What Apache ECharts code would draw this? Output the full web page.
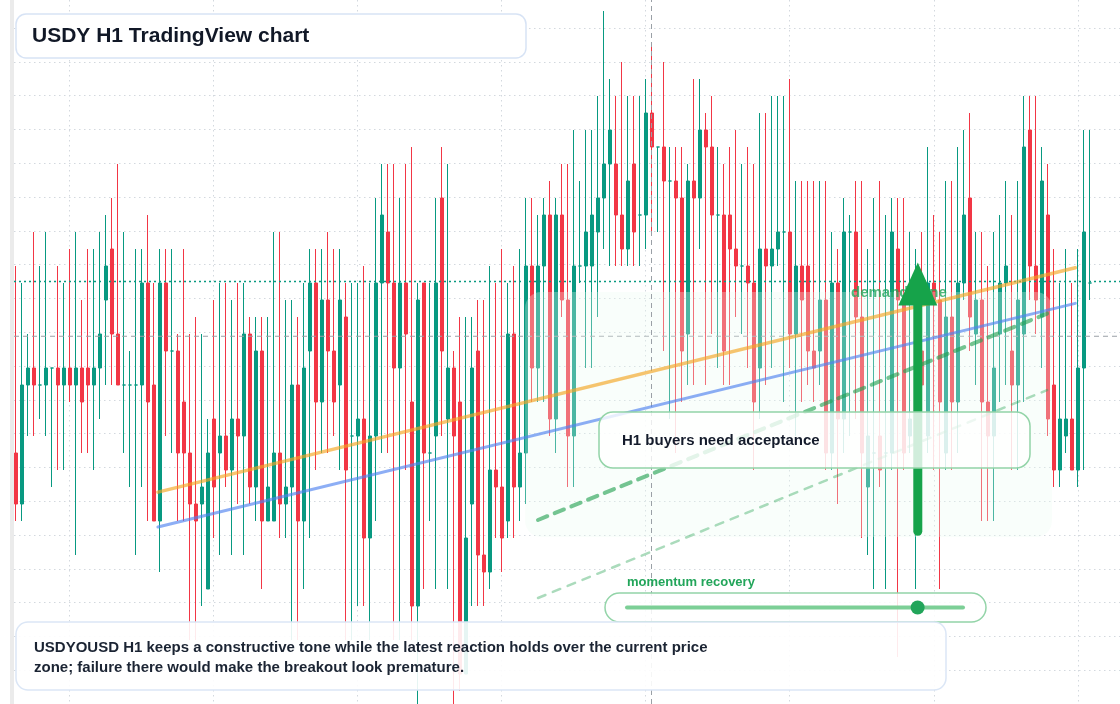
<!DOCTYPE html>
<html lang="en">
<head>
<meta charset="UTF-8">
<title>USDY H1 TradingView chart</title>
<script src="https://cdn.jsdelivr.net/npm/echarts@6/dist/echarts.min.js"></script>
<style>
    html, body { margin: 0; padding: 0; background: #fff; }
    #container { width: 1120px; height: 704px; }
</style>
</head>
<body>
<div id="container"></div>
<script type="text/javascript">
    // H1 candles, price in steps (one step = half a grid row)
    var opens = [
        13,10,17,18,17,17,18,18,17,18, 17,18,18,17,18,22,25,20,17,17,
        17,17,23,17,9,23,19,19,16,13, 10,10,5,15,13,14,12,15,14,20,
        11,19,9,9,13,10,11,17,9,19, 23,16,22,19,17,21,14,14,15,8,
        14,23,26,23,18,23,16,4,23,13, 14,28,15,18,16,0,10,19,7,6,
        12,11,9,20,11,13,24,18,24,27, 15,27,22,14,24,24,24,26,28,30,
        30,27,25,30,27,27,33,31,31,29, 29,28,20,29,28,32,31,27,27,27,
        25,24,24,23,18,25,24,25,26,26, 20,24,24,19,19,22,13,23,15,26,
        26,21,11,13,14,13,13,25,22,14, 13,19,14,23,22,13,21,16,23,28,
        20,22,16,14,20,23,19,17,20,32, 24,21,27,17,12,14,15,12,18,23
    ];
    var closes = [
        10,17,18,17,17,18,18,17,18,17, 18,16,17,18,20,24,20,17,17,17,
        17,23,16,9,23,19,19,13,13,10, 9,11,13,11,14,12,15,14,20,11,
        19,9,11,13,10,11,17,9,18,23, 16,22,19,16,22,12,14,15,8,14,
        23,27,23,18,23,20,4,22,13,13, 23,19,18,14,0,8,18,7,6,12,
        11,8,20,11,13,24,18,24,27,15, 27,22,14,24,24,26,27,28,30,32,
        27,25,29,26,27,33,31,31,29,29, 28,19,29,28,32,31,27,27,19,25,
        24,24,23,16,25,24,25,26,26,20, 24,22,19,18,22,13,23,15,26,26,
        21,13,14,13,12,13,26,22,13,15, 19,17,23,22,16,21,16,23,27,21,
        22,16,14,18,23,24,17,22,31,24, 22,29,15,12,15,15,12,18,26,23
    ];
    var lows = [
        9,9,14,14,15,14,11,12,12,16, 7,13,13,12,15,17,17,17,13,11,
        7,11,9,9,6,14,13,9,9,2, 2,4,5,8,7,11,7,10,7,10,
        9,5,9,9,8,8,2,2,5,8, 12,13,13,14,12,2,2,4,4,2,
        9,13,13,2,2,12,2,-2,5,9, 5,14,5,-2,-1,0,4,4,4,5,
        8,6,8,8,9,10,16,16,16,14, 13,21,11,11,23,18,18,21,25,24,
        24,24,24,24,24,25,26,26,19,15, 13,16,17,17,25,17,20,18,17,17,
        21,20,18,12,15,17,18,24,16,18, 14,16,17,16,17,12,12,10,13,14,
        15,8,7,5,11,5,12,1,12,13, 5,10,13,12,5,12,12,13,22,19,
        17,9,9,9,16,17,12,12,16,22, 20,18,14,11,11,13,12,11,12,22
    ];
    var highs = [
        24,23,20,26,24,26,18,24,23,25, 26,22,25,25,26,27,28,30,26,19,
        25,25,27,23,25,25,25,20,25,20, 21,20,15,22,23,23,22,23,23,21,
        21,21,21,26,26,22,22,21,23,25, 25,25,26,25,25,23,23,23,24,23,
        28,30,30,30,28,30,31,23,23,23, 28,31,30,19,21,21,21,22,22,24,
        23,25,23,24,25,28,28,27,28,29, 28,30,30,32,29,32,32,34,39,35,
        34,36,34,34,34,35,37,31,36,31, 31,31,30,35,35,33,34,31,30,31,
        32,30,31,30,33,33,34,34,34,35, 29,29,29,29,29,29,26,25,28,27,
        29,29,25,28,29,27,28,28,28,26, 25,26,31,27,26,29,29,31,32,33,
        26,26,24,26,27,29,27,29,34,34, 34,31,30,25,23,25,23,25,32,32
    ];
    var lastPrice = 23;
    var cursorIndex = 106;
    var cursorPrice = 19.76;
    // drawn objects: [candle position, price]
    var orangeTrend = [[23.7, 10.7], [176.6, 23.9]];
    var blueTrend = [[23.7, 8.65], [176.6, 21.8]];
    var supportDash = [[87.05, 9.06], [171.9, 21.2]];
    var lowerDash = [[87.05, 4.47], [171.9, 16.7]];
    var demandZone = [[84.9, 22.47], [172.7, 8.06]];
    var arrowMove = [[150.35, 8.4], [150.35, 24.2]];
    var momentum = 0.865;

    var dom = document.getElementById('container');
    var myChart = echarts.init(dom, null, { renderer: 'canvas' });

    var candles = opens.map(function (o, i) { return [o, closes[i], lows[i], highs[i]]; });
    var hours = opens.map(function (o, i) { return i; });
    var font = '"Liberation Sans", Arial, sans-serif';
    var gridDot = { color: '#d3d8de', width: 1, type: [1.5, 3.5] };

    function trend(points, color, width, type, z) {
        return {
            type: 'line', xAxisIndex: 1, yAxisIndex: 0, data: points,
            symbol: 'none', silent: true, z: z,
            lineStyle: { color: color, width: width, type: type, cap: 'round' }
        };
    }
    function flat(value, color, width, type) {
        return {
            type: 'line', xAxisIndex: 2, yAxisIndex: 1, data: [[0, value], [1, value]],
            symbol: 'none', silent: true, z: 3,
            lineStyle: { color: color, width: width, type: type }
        };
    }

    var option = {
        animation: false,
        grid: [
            { left: 12.7, width: 1080, top: 0, bottom: 0 },
            { left: 14, right: 0, top: 28, height: 680 },
            { left: 69, right: 42, top: 0, bottom: 0 }
        ],
        xAxis: [
            { type: 'category', gridIndex: 0, data: hours, show: false, boundaryGap: true },
            { type: 'value', gridIndex: 0, min: -0.5, max: 179.5, show: false },
            { type: 'value', gridIndex: 1, min: 0, max: 1, show: false },
            {
                type: 'value', gridIndex: 2, min: 0, max: 7, interval: 1,
                axisLine: { show: false }, axisTick: { show: false }, axisLabel: { show: false },
                splitLine: { show: true, lineStyle: gridDot }
            }
        ],
        yAxis: [
            { type: 'value', gridIndex: 0, min: -30 / 17, max: 674 / 17, show: false },
            {
                type: 'value', gridIndex: 1, min: -2, max: 38, interval: 2,
                axisLine: { show: false }, axisTick: { show: false }, axisLabel: { show: false },
                splitLine: { show: true, lineStyle: gridDot }
            },
            { type: 'value', gridIndex: 2, min: 0, max: 1, show: false }
        ],
        series: [
            {
                type: 'candlestick',
                xAxisIndex: 0, yAxisIndex: 0,
                data: candles,
                barWidth: 3.6,
                z: 2,
                itemStyle: {
                    color: '#089981', color0: '#f23645',
                    borderColor: '#089981', borderColor0: '#f23645',
                    borderColorDoji: '#089981', borderWidth: 1
                },
                markLine: {
                    silent: true, symbol: 'none', label: { show: false },
                    lineStyle: { color: '#9aa0a6', width: 1, type: [5, 4] },
                    data: [{ xAxis: cursorIndex }]
                }
            },
            flat(lastPrice, '#089981', 1.5, [2, 3]),
            flat(cursorPrice, '#9aa0a6', 1, [5, 4]),
            trend(orangeTrend, 'rgba(245,166,35,0.65)', 3.5, 'solid', 5),
            trend(blueTrend, 'rgba(80,130,240,0.65)', 3, 'solid', 5),
            trend(supportDash, 'rgba(34,160,80,0.62)', 4, [10, 8], 5),
            trend(lowerDash, 'rgba(34,160,80,0.38)', 2.5, [8, 8], 5)
        ]
    };
    myChart.setOption(option);

    // data -> pixel through the chart's own axes
    function px(x, v) {
        return [myChart.convertToPixel({ xAxisIndex: 1 }, x), myChart.convertToPixel({ yAxisIndex: 0 }, v)];
    }
    function label(text, x, y, size, color, z) {
        return {
            type: 'text', x: x, y: y, z: z,
            style: {
                text: text, fill: color, font: 'bold ' + size + 'px ' + font,
                textAlign: 'left', align: 'left', textVerticalAlign: 'middle', verticalAlign: 'middle'
            }
        };
    }

    var zA = px(demandZone[0][0], demandZone[0][1]);
    var zB = px(demandZone[1][0], demandZone[1][1]);
    var aBot = px(arrowMove[0][0], arrowMove[0][1]);
    var aTop = px(arrowMove[1][0], arrowMove[1][1]);
    var headH = 43, headW = 39;
    var trackX0 = 627, trackX1 = 963;

    myChart.setOption({
        graphic: [
            // left edge strip
            { type: 'rect', z: 1, shape: { x: 10, y: 0, width: 4, height: 704 }, style: { fill: '#ebebeb' } },
            // demand zone
            {
                type: 'rect', z: 4,
                shape: { x: zA[0], y: zA[1], width: zB[0] - zA[0], height: zB[1] - zA[1], r: 16 },
                style: { fill: 'rgba(236,251,241,0.3)' }
            },
            label('demand zone', 851, 293, 15, 'rgba(34,165,90,0.8)', 6),
            // arrow
            {
                type: 'line', z: 7,
                shape: { x1: aBot[0], y1: aBot[1], x2: aTop[0], y2: aTop[1] + headH - 2 },
                style: { stroke: '#16a34a', lineWidth: 9, lineCap: 'round' }
            },
            {
                type: 'polygon', z: 7,
                shape: { points: [[aTop[0] - headW / 2, aTop[1] + headH], [aTop[0] + headW / 2, aTop[1] + headH], [aTop[0], aTop[1]]] },
                style: { fill: '#16a34a' }
            },
            // H1 note
            {
                type: 'rect', z: 8,
                shape: { x: 599, y: 412, width: 431, height: 56, r: 14 },
                style: { fill: 'rgba(255,255,255,0.8)', stroke: '#93d4a8', lineWidth: 1.5 }
            },
            label('H1 buyers need acceptance', 622, 441, 15, '#141b2b', 9),
            // momentum gauge
            label('momentum recovery', 627, 582, 13, '#22a55a', 9),
            {
                type: 'rect', z: 8,
                shape: { x: 605, y: 593, width: 381, height: 29, r: 14.5 },
                style: { fill: 'rgba(255,255,255,0.85)', stroke: '#93d4a8', lineWidth: 1.5 }
            },
            {
                type: 'line', z: 9,
                shape: { x1: trackX0, y1: 607.5, x2: trackX1, y2: 607.5 },
                style: { stroke: '#7ccf96', lineWidth: 4, lineCap: 'round' }
            },
            {
                type: 'circle', z: 9,
                shape: { cx: trackX0 + (trackX1 - trackX0) * momentum, cy: 607.5, r: 7 },
                style: { fill: '#22a55a' }
            },
            // bottom note
            {
                type: 'rect', z: 10,
                shape: { x: 16, y: 622, width: 930, height: 68, r: 12 },
                style: { fill: 'rgba(255,255,255,0.9)', stroke: '#dbe6f6', lineWidth: 1.5 }
            },
            label('USDYOUSD H1 keeps a constructive tone while the latest reaction holds over the current price', 34, 648, 15, '#1b2433', 11),
            label('zone; failure there would make the breakout look premature.', 34, 668, 15, '#1b2433', 11),
            // title
            {
                type: 'rect', z: 10,
                shape: { x: 16, y: 14, width: 510, height: 44, r: 10 },
                style: { fill: '#ffffff', stroke: '#d7e3f5', lineWidth: 1.5 }
            },
            label('USDY H1 TradingView chart', 32, 36, 21, '#111827', 11)
        ]
    });

    window.addEventListener('resize', myChart.resize);
</script>
</body>
</html>
